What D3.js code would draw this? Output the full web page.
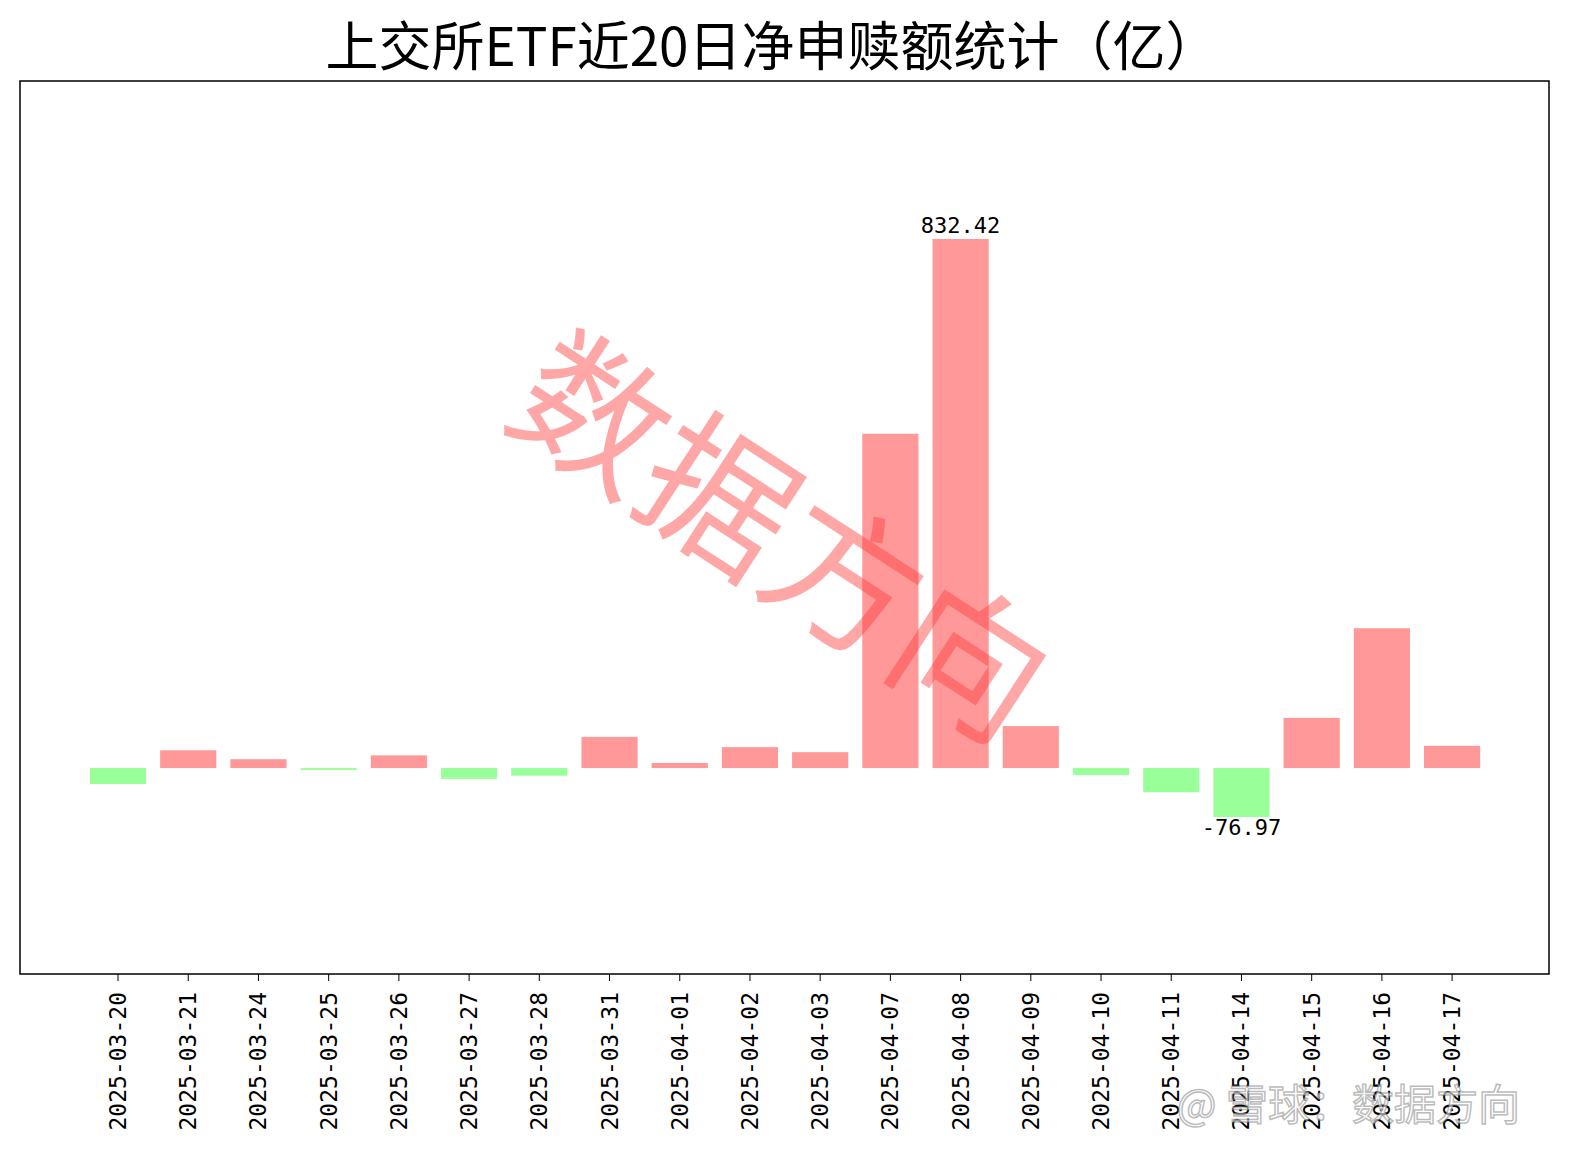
<!DOCTYPE html>
<html><head><meta charset="utf-8">
<script src="https://cdn.jsdelivr.net/npm/d3@7"></script>
<style>body{margin:0;background:#fff}text{font-family:"Noto Sans CJK SC",sans-serif}</style>
</head><body>
<svg id="chart" width="1589" height="1166"></svg>
<script>
const dates = ["2025-03-20","2025-03-21","2025-03-24","2025-03-25","2025-03-26","2025-03-27","2025-03-28","2025-03-31","2025-04-01","2025-04-02","2025-04-03","2025-04-07","2025-04-08","2025-04-09","2025-04-10","2025-04-11","2025-04-14","2025-04-15","2025-04-16","2025-04-17"]
const values = [-25,28,14,-3,20,-17,-12,49,8,33,25,526,832.42,66,-11,-38,-76.97,79,220,35]
const labelled = [12,16]

const svg = d3.select('#chart')
const L=20, R=1549, T=81, B=974
const x = d3.scaleLinear().domain([-1.396,20.38]).range([L,R])
const y = d3.scaleLinear().domain([-324,1081]).range([B,T])
const bw = x(0.4)-x(-0.4)
const mono = '"DejaVu Sans Mono",monospace'

svg.append('text').attr('x',772).attr('y',66).attr('text-anchor','middle')
  .style('font-size','53px').text('上交所ETF近20日净申赎额统计（亿）')

svg.append('g').selectAll('rect').data(values).join('rect')
  .attr('x',(d,i)=>x(i)-bw/2).attr('width',bw)
  .attr('y',d=>y(Math.max(0,d))).attr('height',d=>Math.abs(y(d)-y(0)))
  .attr('fill',d=>d>=0?'#ff9999':'#99ff99')

labelled.forEach(i=>{
  const v=values[i]
  svg.append('text').attr('x',x(i)).attr('y',v>=0?y(v)-6:y(v)+18)
    .attr('text-anchor','middle').style('font-family',mono).style('font-size','22px').text(v.toFixed(2))
})

svg.append('rect').attr('x',L).attr('y',T).attr('width',R-L).attr('height',B-T)
  .attr('fill','none').attr('stroke','#000').attr('stroke-width',1.5)

const ax = svg.append('g')
dates.forEach((d,i)=>{
  ax.append('line').attr('x1',x(i)).attr('x2',x(i)).attr('y1',B).attr('y2',B+7).attr('stroke','#000')
  ax.append('text').attr('transform',`translate(${x(i)+8},${B+18}) rotate(-90)`)
    .attr('text-anchor','end').style('font-family',mono).style('font-size','23px').text(d)
})

svg.append('text').attr('transform','translate(500,420) rotate(33)')
  .style('font-size','150px').attr('fill','rgba(255,60,60,0.45)').text('数据方向')

svg.append('text').attr('x',1520).attr('y',1120).attr('text-anchor','end')
  .style('font-size','42px').attr('fill','rgba(255,255,255,0.6)')
  .attr('stroke','rgba(120,120,120,0.5)').attr('stroke-width',1.5).text('@ 雪球：数据方向')
</script>
</body></html>
